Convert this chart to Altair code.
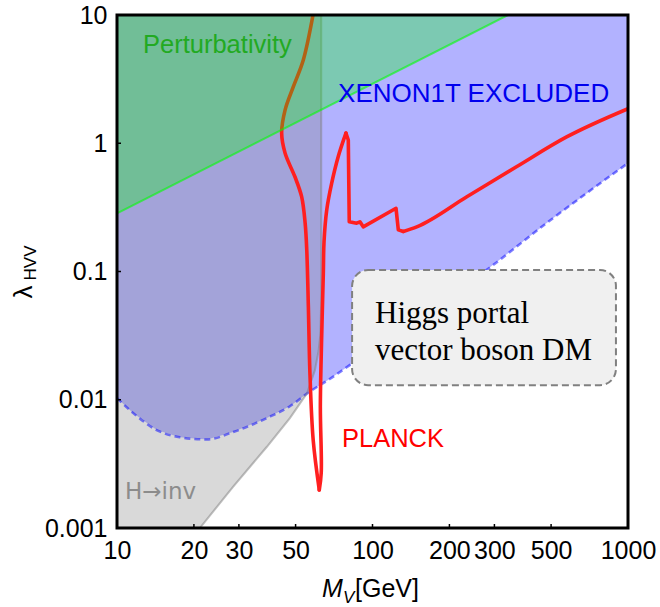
import altair as alt
import pandas as pd

# ---------------- data ----------------
# XENON1T exclusion boundary (excluded above)
xenon_mass = [10, 11.55, 14.3, 17.6, 22.5, 28.5, 38.6, 47.5, 56.9, 68, 81.7, 150, 280, 495, 1000]
xenon_lam = [0.0103, 0.0079, 0.0058, 0.0051, 0.0049, 0.0056, 0.0072, 0.0089, 0.0116, 0.0145,
             0.0187, 0.043, 0.103, 0.25, 0.70]

# Higgs -> invisible boundary (excluded above, for M_V < m_h/2)
hinv_mass = [10, 21.1, 28.5, 38.6, 47.5, 55.5, 59.5, 61.5, 62.5, 63.0]
hinv_lam = [0.00015, 0.001, 0.0021, 0.0043, 0.0072, 0.0113, 0.017, 0.024, 0.032, 0.06]

# Perturbativity boundary (excluded above)
pert_mass = [10, 339]
pert_lam = [0.284, 10]

# Planck relic-density curve (ordered path)
planck_mass = [58.5, 53.6, 49.0, 45.5, 44.1, 45.5, 49.7, 52.8, 54.5, 55.3, 56.1, 56.9, 58.6, 61.9,
               63.0, 62.5, 63.2, 64.2, 64.6, 66.2, 69.2, 73.4, 78.7, 80.4, 81.1, 86.7, 89.3, 92.0,
               123.6, 126.2, 132, 149, 234, 366, 575, 1000]
planck_lam = [10, 4.46, 2.76, 1.82, 1.20, 0.835, 0.548, 0.383, 0.238, 0.147, 0.0532, 0.0161, 0.00485,
              0.00198, 0.0027, 0.0088, 0.029, 0.097, 0.17, 0.302, 0.487, 0.786, 1.20, 1.06, 0.244,
              0.238, 0.244, 0.223, 0.311, 0.211, 0.205, 0.223, 0.383, 0.656, 1.12, 1.86]
# index ranges of the Planck path drawn smooth (s) or with sharp corners (l)
planck_pieces = [(0, 14, "catmull-rom"), (13, 23, "catmull-rom"), (22, 31, "linear"), (30, 36, "monotone")]

# annotation box corners (data coordinates)
box_mass = [83.2, 897]
box_lam = [0.0130, 0.1028]

x_ticks = [10, 20, 30, 50, 100, 200, 300, 500, 1000]
y_ticks = [0.001, 0.01, 0.1, 1, 10]
lam_top = 10

# region labels: text, mass, lambda (baseline-left anchor), colour, font, size
region_labels = [
    ("Perturbativity", 12.64, 5.05, "#22aa22", "Liberation Sans", 25.5),
    ("XENON1T EXCLUDED", 73.3, 2.10, "#0000ee", "Liberation Sans", 26),
    ("PLANCK", 75.96, 0.00428, "#ff0000", "Liberation Sans", 25.5),
    ("H\u2192inv", 10.75, 0.00168, "#8c8c8c", "DejaVu Sans", 23),
]
box_lines = [("Higgs portal", 102.3, 0.0397), ("vector boson DM", 102.3, 0.0204)]

# ---------------- chart ----------------
W, H = 511, 513
FONT = "Liberation Sans"

xs = alt.Scale(type="log", domain=[10, 1000], nice=False)
ys = alt.Scale(type="log", domain=[0.001, 10], nice=False)
x_axis = alt.Axis(values=x_ticks, format="~g", labelFont=FONT, labelFontSize=25, labelColor="black",
                  labelPadding=10, labelFlush=False, labelOverlap=False, ticks=False, tickSize=0,
                  domain=False, grid=False)
y_axis = alt.Axis(values=y_ticks, format="~g", labelFont=FONT, labelFontSize=25, labelColor="black",
                  labelPadding=10, labelFlush=False, labelOverlap=False, ticks=False, tickSize=0,
                  domain=False, grid=False)


def ex(f="M"):
    return alt.X(f"{f}:Q", scale=xs, axis=x_axis, title=None)


def ey(f="L"):
    return alt.Y(f"{f}:Q", scale=ys, axis=y_axis, title=None)


xenon_df = pd.DataFrame({"M": xenon_mass, "L": xenon_lam, "T": lam_top, "i": range(len(xenon_mass))})
hinv_df = pd.DataFrame({"M": hinv_mass, "L": hinv_lam, "T": lam_top})
hinv_line_df = pd.DataFrame({"M": hinv_mass + [hinv_mass[-1]], "L": hinv_lam + [lam_top],
                             "i": range(len(hinv_mass) + 1)})
pert_df = pd.DataFrame({"M": pert_mass, "L": pert_lam, "T": lam_top})
box_df = pd.DataFrame({"M": [box_mass[0]], "M2": [box_mass[1]], "L": [box_lam[0]], "L2": [box_lam[1]]})
one = pd.DataFrame({"k": [0]})

layers = []

# XENON1T excluded region
layers.append(alt.Chart(xenon_df).mark_area(color="#0000ff", opacity=0.3, clip=True).encode(
    x=ex(), y=ey(), y2=alt.Y2("T:Q")))
# H->inv excluded region
layers.append(alt.Chart(hinv_df).mark_area(color="#808080", opacity=0.3, clip=True).encode(
    x=ex(), y=ey(), y2=alt.Y2("T:Q")))
# XENON boundary dashed
layers.append(alt.Chart(xenon_df).mark_line(color="#0000ff", opacity=0.5, strokeWidth=2.5,
                                            strokeDash=[6, 4], clip=True, interpolate="monotone").encode(
    x=ex(), y=ey(), order=alt.Order("i:Q")))
# H->inv boundary line
layers.append(alt.Chart(hinv_line_df).mark_line(color="#808080", opacity=0.5, strokeWidth=2,
                                                clip=True).encode(
    x=ex(), y=ey(), order=alt.Order("i:Q")))
# Planck curve, piece by piece
for a, b, interp in planck_pieces:
    d = pd.DataFrame({"M": planck_mass[a:b], "L": planck_lam[a:b], "i": range(b - a)})
    layers.append(alt.Chart(d).mark_line(color="#ff1f1f", strokeWidth=3.6, clip=True,
                                         strokeJoin="round", strokeCap="round",
                                         interpolate=interp).encode(
        x=ex(), y=ey(), order=alt.Order("i:Q")))
# Perturbativity region
layers.append(alt.Chart(pert_df).mark_area(color="#00ff00", opacity=0.3, clip=True).encode(
    x=ex(), y=ey(), y2=alt.Y2("T:Q")))
layers.append(alt.Chart(pert_df).mark_line(color="#00ff00", opacity=0.6, strokeWidth=2, clip=True).encode(
    x=ex(), y=ey()))

# annotation box
layers.append(alt.Chart(box_df).mark_rect(fill="#f0f0f0", stroke="#808080", strokeWidth=2,
                                          strokeDash=[7, 4], cornerRadius=16).encode(
    x=ex(), x2=alt.X2("M2:Q"), y=ey(), y2=alt.Y2("L2:Q")))
for txt, m, l in box_lines:
    d = pd.DataFrame({"M": [m], "L": [l], "t": [txt]})
    layers.append(alt.Chart(d).mark_text(font="Liberation Serif", fontSize=31, color="black",
                                         align="left", baseline="alphabetic").encode(
        x=ex(), y=ey(), text="t:N"))

# region labels
for txt, m, l, c, f, s in region_labels:
    d = pd.DataFrame({"M": [m], "L": [l], "t": [txt]})
    layers.append(alt.Chart(d).mark_text(font=f, fontSize=s, color=c, align="left",
                                         baseline="alphabetic").encode(
        x=ex(), y=ey(), text="t:N"))

# inner ticks
xt_df = pd.DataFrame({"M": x_ticks[1:-1]})
yt_df = pd.DataFrame({"L": y_ticks[1:-1]})
layers.append(alt.Chart(xt_df).mark_rule(color="black", strokeWidth=1.5).encode(
    x=ex(), y=alt.value(H), y2=alt.value(H - 4)))
layers.append(alt.Chart(yt_df).mark_rule(color="black", strokeWidth=1.5).encode(
    y=ey(), x=alt.value(0), x2=alt.value(4)))

# frame
layers.append(alt.Chart(one).mark_rect(fillOpacity=0, stroke="black", strokeWidth=3).encode(
    x=alt.value(0), x2=alt.value(W), y=alt.value(0), y2=alt.value(H)))

# axis titles (with sub-scripts)
layers.append(alt.Chart(one).mark_text(text="M", font=FONT, fontSize=25, fontStyle="italic",
                                       align="left", baseline="alphabetic", color="black").encode(
    x=alt.value(205), y=alt.value(582)))
layers.append(alt.Chart(one).mark_text(text="V", font=FONT, fontSize=17, fontStyle="italic",
                                       align="left", baseline="alphabetic", color="black").encode(
    x=alt.value(226), y=alt.value(588)))
layers.append(alt.Chart(one).mark_text(text="[GeV]", font=FONT, fontSize=25,
                                       align="left", baseline="alphabetic", color="black").encode(
    x=alt.value(238), y=alt.value(582)))
layers.append(alt.Chart(one).mark_text(text="\u03bb", font=FONT, fontSize=26, angle=270,
                                       align="center", baseline="alphabetic", color="black").encode(
    x=alt.value(-85), y=alt.value(277)))
layers.append(alt.Chart(one).mark_text(text="HVV", font=FONT, fontSize=17, angle=270,
                                       align="center", baseline="alphabetic", color="black").encode(
    x=alt.value(-81), y=alt.value(248)))

chart = alt.layer(*layers).properties(
    width=W, height=H,
    autosize=alt.AutoSizeParams(type="none"),
    padding={"left": 117, "top": 15, "right": 32, "bottom": 79},
    background="white",
).configure_view(strokeWidth=0)

chart.save("out.html", embed_options={"renderer": "svg", "actions": False})
